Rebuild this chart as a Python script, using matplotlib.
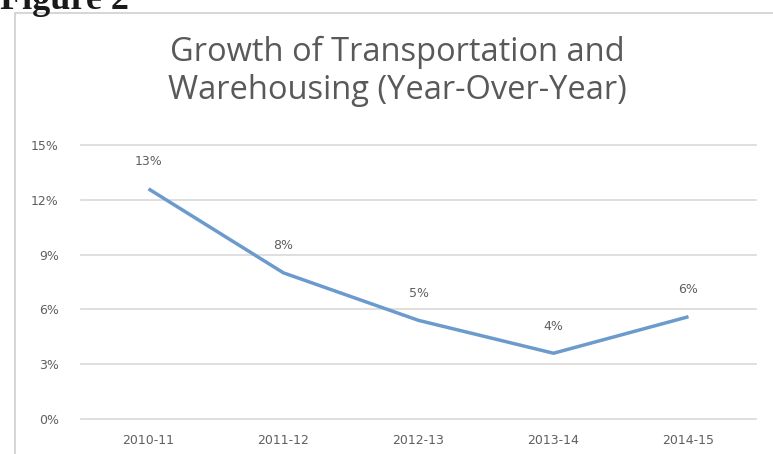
import numpy as np
import matplotlib.pyplot as plt
from matplotlib.patches import Rectangle

# year-over-year growth, in percent
periodes = ['2010-11', '2011-12', '2012-13', '2013-14', '2014-15']
croissance = [12.6, 8.0, 5.4, 3.6, 5.6]
graduations = [0, 3, 6, 9, 12, 15]

gris_texte = '#5f5f5f'

fig = plt.figure(figsize=(7.73, 4.54), dpi=100)
fig.patch.set_facecolor('white')

# cadre du graphique
fig.patches.append(Rectangle((15 / 773, -0.05), 1.0, (454 - 13) / 454 + 0.05,
                             transform=fig.transFigure, fill=False,
                             edgecolor='#d0d0d0', linewidth=1.2))

fig.text(0.0, 1 - 9 / 454, 'Figure 2', family='Liberation Serif', fontweight='bold',
         fontsize=26, ha='left', va='baseline', color='#1a1a1a')

fig.text(397 / 773, 1 - 71 / 454, 'Growth of Transportation and\nWarehousing (Year-Over-Year)',
         family='Open Sans', fontsize=23.5, color='#595959', ha='center', va='center',
         linespacing=1.2)

ax = fig.add_axes([81 / 773, 35 / 454, 675 / 773, 274 / 454])
x = np.arange(len(periodes))
ax.plot(x, croissance, color='#6b9bcc', linewidth=2.5, solid_capstyle='butt')

for xi, v in zip(x, croissance):
    ax.annotate(f'{v:.0f}%', (xi, v), xytext=(0, 27), textcoords='offset pixels',
                ha='center', va='center', fontsize=9, color=gris_texte)

ax.set_xlim(-0.5, len(periodes) - 0.5)
ax.set_ylim(0, 15)
ax.set_yticks(graduations)
ax.set_yticklabels([f'{g}%' for g in graduations])
ax.set_xticks(x)
ax.set_xticklabels(periodes)
ax.tick_params(length=0, labelsize=9, labelcolor=gris_texte)
ax.tick_params(axis='y', pad=16)
ax.tick_params(axis='x', pad=11)
ax.grid(axis='y', color='#d9d9d9', linewidth=1.2, clip_on=False)
ax.set_axisbelow(True)
for s in ax.spines.values():
    s.set_visible(False)

plt.savefig('out.png', dpi=100)
